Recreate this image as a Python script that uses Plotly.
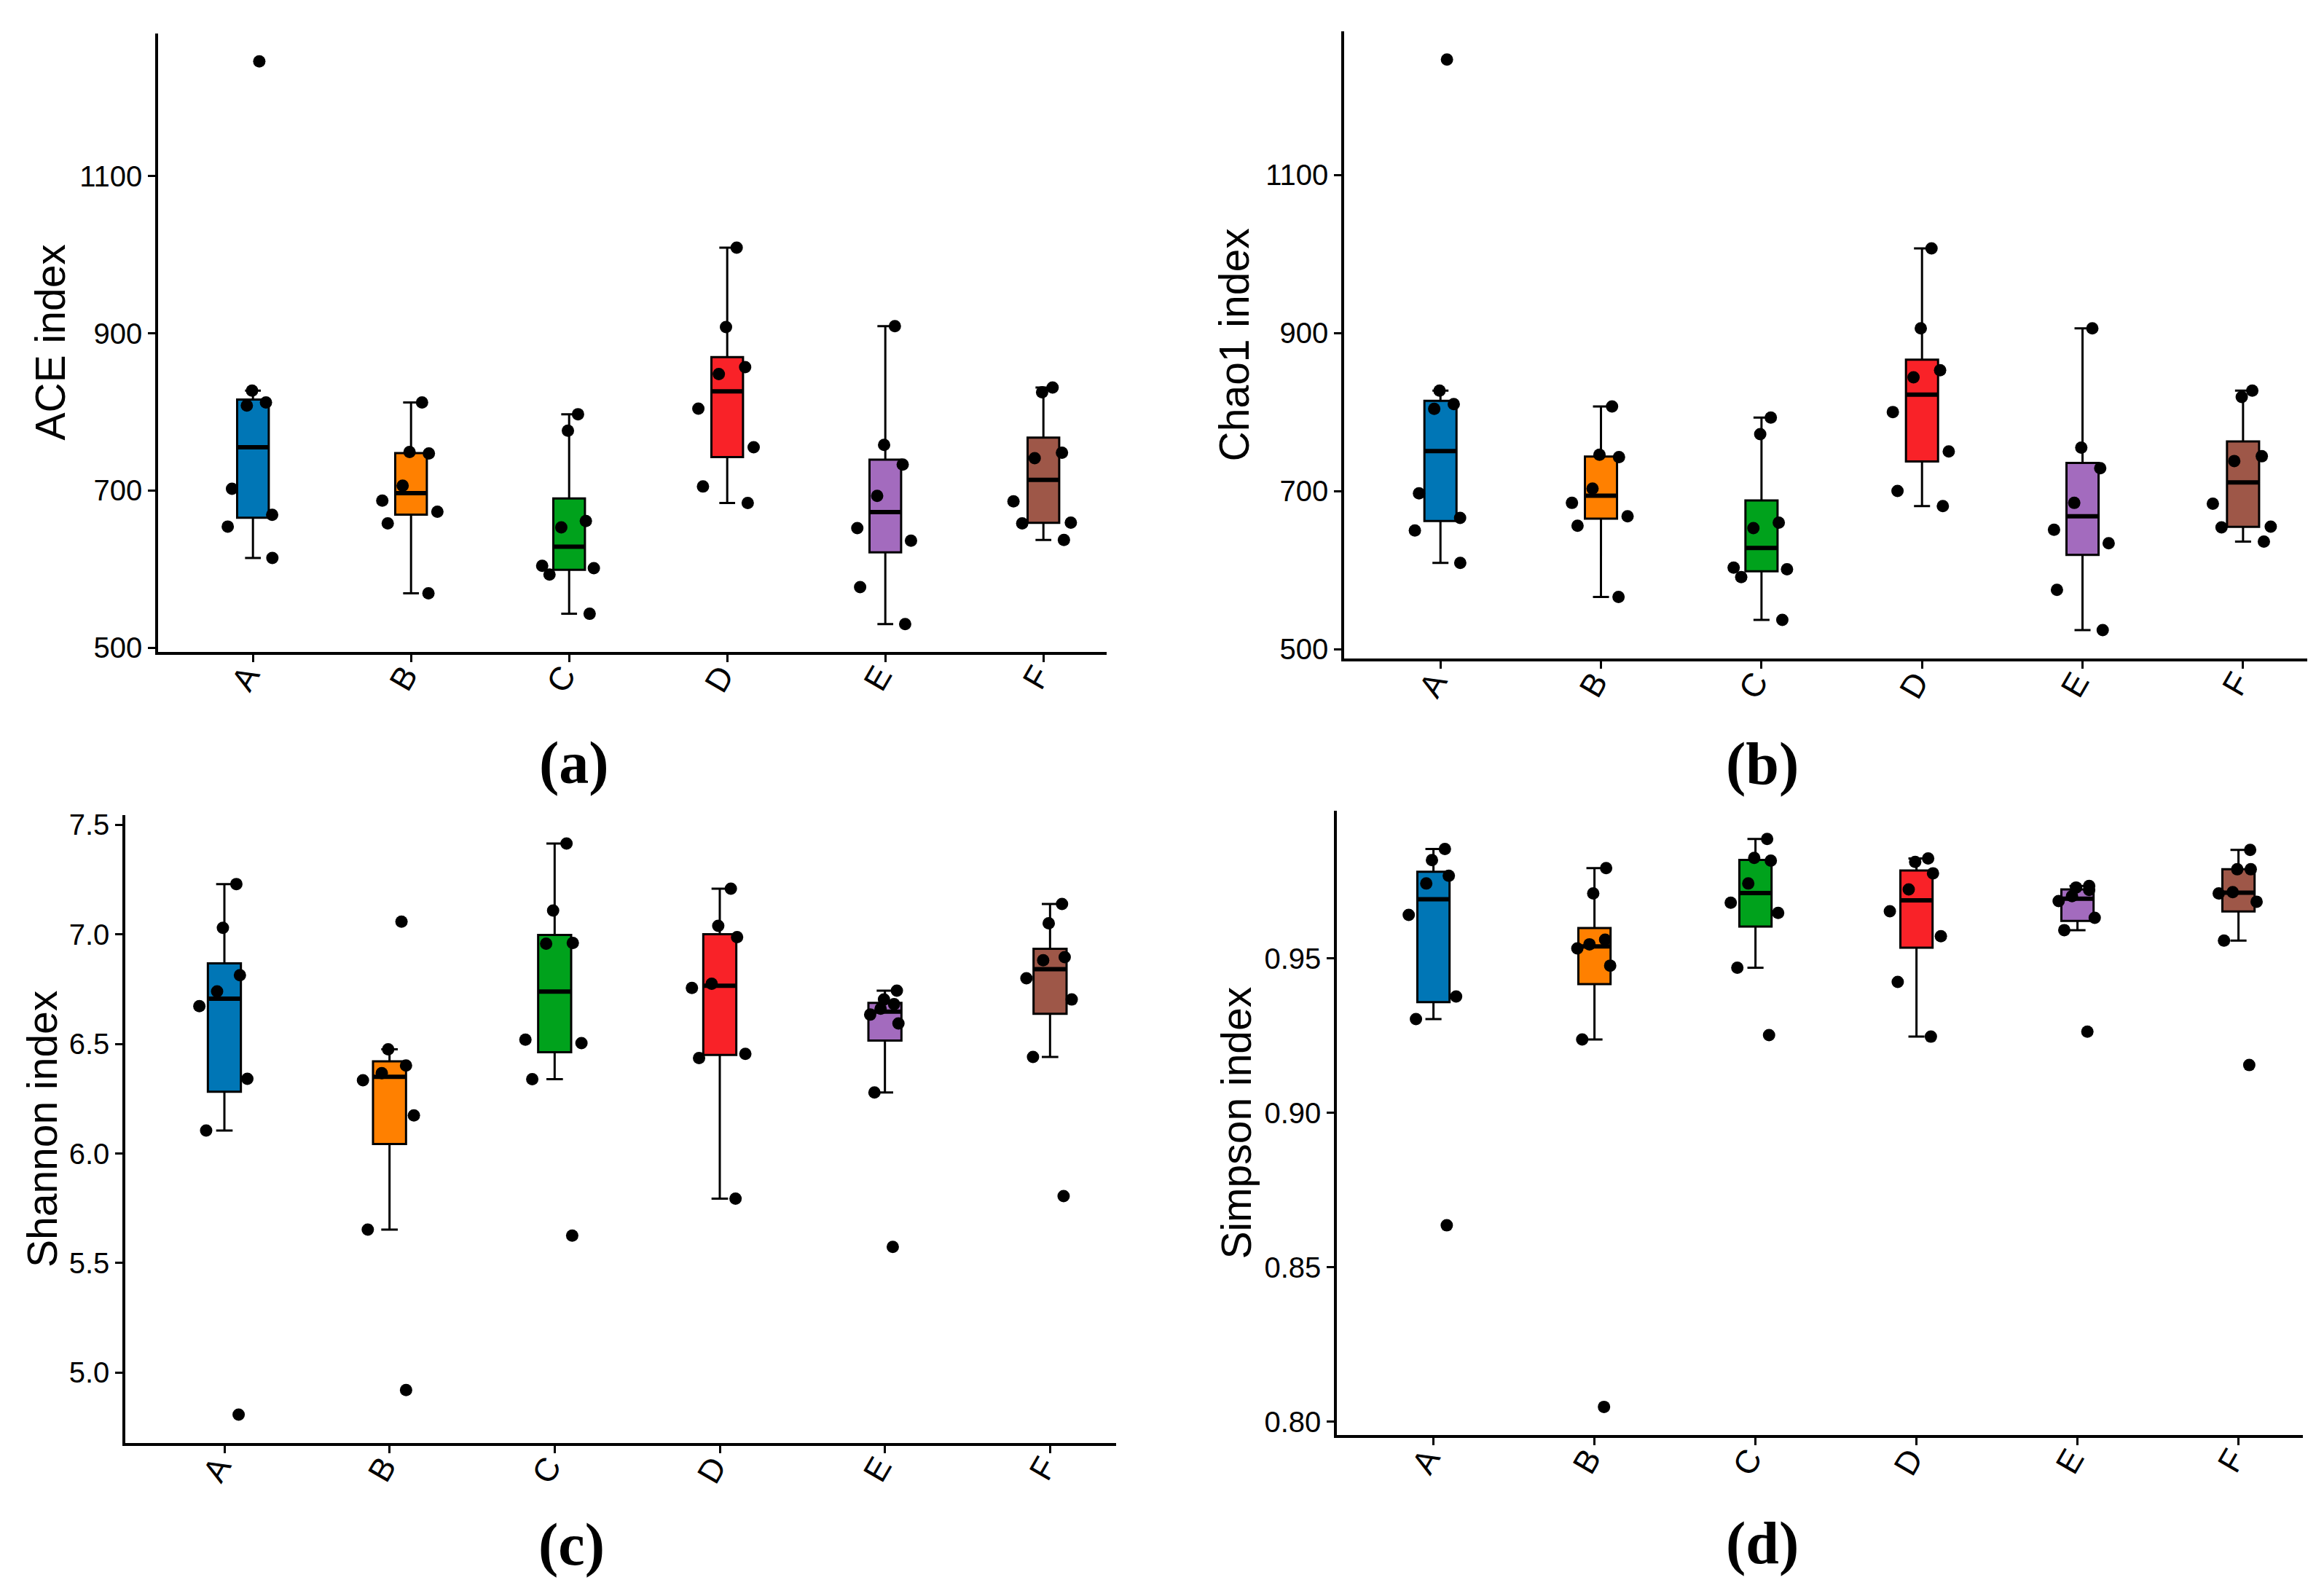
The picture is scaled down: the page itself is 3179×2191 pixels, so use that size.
# Alpha diversity boxplots (ACE, Chao1, Shannon, Simpson) in a 2x2 grid
import numpy as np
import plotly.graph_objects as go

W, H = 3179, 2191

groups = ["A", "B", "C", "D", "E", "F"]
colors = ["#0076B6", "#FF8000", "#00A21C", "#F92228", "#A36BBE", "#9E5748"]

# values, 8 samples per group
ace = [
    [1246, 827, 808, 812, 702, 669, 654, 614],
    [812, 749, 747, 706, 687, 673, 658, 569],
    [797, 776, 661, 653, 604, 601, 593, 543],
    [1009, 908, 857, 848, 804, 755, 705, 684],
    [909, 758, 733, 693, 652, 636, 577, 530],
    [825, 831, 748, 741, 686, 658, 659, 637],
]
chao1 = [
    [1246, 827, 804, 810, 697, 666, 650, 609],
    [807, 746, 743, 703, 685, 668, 656, 566],
    [793, 772, 660, 653, 603, 601, 591, 537],
    [1007, 906, 853, 844, 800, 750, 700, 681],
    [906, 755, 729, 685, 651, 634, 575, 524],
    [819, 827, 744, 738, 684, 654, 655, 636],
]
shannon = [
    [7.230, 7.030, 6.814, 6.740, 6.673, 6.341, 6.105, 4.808],
    [6.476, 6.367, 6.402, 6.334, 6.174, 5.653, 4.920, 7.058],
    [7.415, 7.109, 6.958, 6.961, 6.520, 6.504, 6.339, 5.625],
    [7.209, 7.039, 6.988, 6.775, 6.756, 6.455, 6.436, 5.794],
    [6.743, 6.703, 6.682, 6.661, 6.634, 6.594, 6.279, 5.574],
    [7.139, 7.051, 6.896, 6.882, 6.800, 6.703, 6.441, 5.806],
]
simpson = [
    [0.9855, 0.9819, 0.9768, 0.9743, 0.9641, 0.9377, 0.9304, 0.8636],
    [0.9793, 0.9711, 0.9561, 0.9546, 0.9533, 0.9477, 0.9238, 0.8048],
    [0.9887, 0.9826, 0.9817, 0.9743, 0.9681, 0.9648, 0.9470, 0.9252],
    [0.9824, 0.9813, 0.9776, 0.9724, 0.9653, 0.9572, 0.9424, 0.9247],
    [0.9735, 0.9730, 0.9722, 0.9702, 0.9686, 0.9632, 0.9592, 0.9263],
    [0.9852, 0.9789, 0.9789, 0.9715, 0.9711, 0.9684, 0.9558, 0.9155],
]

ace_ticks = [500, 700, 900, 1100]
shannon_ticks = [5.0, 5.5, 6.0, 6.5, 7.0, 7.5]
simpson_ticks = [0.80, 0.85, 0.90, 0.95]

# title, data, tag, ticks, tick format, pixel box (left, right, top, bottom),
# axis title centre x, tag centre (x, y)
panels = [
    ("ACE index", ace, "(a)", ace_ticks, "d", (209, 1511, 30, 889), 61, (780, 1043)),
    ("Chao1 index", chao1, "(b)", ace_ticks, "d", (1837, 3159, 27, 898), 1686, (2411, 1044)),
    ("Shannon index", shannon, "(c)", shannon_ticks, ".1f", (164, 1524, 1115, 1987), 50, (776, 2128)),
    ("Simpson index", simpson, "(d)", simpson_ticks, ".2f", (1827, 3153, 1109, 1976), 1689, (2411, 2126)),
]


def box_stats(v):
    # ggplot2 style: type-7 quartiles, whiskers to last point inside 1.5*IQR
    v = np.sort(np.asarray(v, dtype=float))
    q1, med, q3 = np.percentile(v, [25, 50, 75])
    iqr = q3 - q1
    lo = v[v >= q1 - 1.5 * iqr].min()
    hi = v[v <= q3 + 1.5 * iqr].max()
    return q1, med, q3, lo, hi


fig = go.Figure()
layout = dict(width=W, height=H, margin=dict(l=0, r=0, t=0, b=0),
              paper_bgcolor="white", plot_bgcolor="white", showlegend=False,
              boxmode="overlay", annotations=[])

for i, (title, data, tag, ticks, fmt, px, title_x, tag_xy) in enumerate(panels):
    n = "" if i == 0 else str(i + 1)
    xa, ya = "x" + n, "y" + n
    left, right, top, bottom = px

    for g, col, vals in zip(groups, colors, data):
        q1, med, q3, lo, hi = box_stats(vals)
        fig.add_trace(go.Box(
            x=[g], q1=[q1], median=[med], q3=[q3], lowerfence=[lo], upperfence=[hi],
            orientation="v", width=0.2, whiskerwidth=0.5, fillcolor=col,
            line=dict(color="black", width=3), boxpoints=False,
            hoverinfo="skip", xaxis=xa, yaxis=ya))
        # thicker median bar
        fig.add_trace(go.Box(
            x=[g], q1=[med], median=[med], q3=[med], lowerfence=[med], upperfence=[med],
            orientation="v", width=0.2, whiskerwidth=0, fillcolor="black",
            line=dict(color="black", width=6), boxpoints=False,
            hoverinfo="skip", xaxis=xa, yaxis=ya))
    for g, vals in zip(groups, data):
        # jittered sample points, drawn by an invisible box
        fig.add_trace(go.Box(
            x=[g] * len(vals), y=vals, orientation="v", width=0.5,
            boxpoints="all", jitter=1, pointpos=0, whiskerwidth=0,
            fillcolor="rgba(0,0,0,0)", line=dict(color="rgba(0,0,0,0)", width=0),
            marker=dict(color="black", size=17), hoverinfo="skip",
            xaxis=xa, yaxis=ya))

    flat = np.concatenate([np.asarray(v, dtype=float) for v in data])
    span = flat.max() - flat.min()
    yr = [flat.min() - 0.05 * span, flat.max() + 0.05 * span]

    axis_common = dict(showline=True, linecolor="black", linewidth=3.5,
                       ticks="outside", ticklen=10, tickwidth=3, tickcolor="black",
                       showgrid=False, zeroline=False)
    layout["xaxis" + n] = dict(axis_common, domain=[left / W, right / W], anchor=ya,
                               type="category", categoryorder="array",
                               categoryarray=groups, range=[-0.6, 5.4], tickangle=-60,
                               ticklabelstandoff=-26, ticklabelshift=-9,
                               tickfont=dict(family="Liberation Sans, Arial", size=45,
                                             color="black"))
    layout["yaxis" + n] = dict(axis_common, domain=[1 - bottom / H, 1 - top / H], anchor=xa,
                               range=yr, tickmode="array", tickvals=ticks,
                               ticktext=[format(t, fmt) for t in ticks],
                               tickfont=dict(family="Liberation Sans, Arial", size=40,
                                             color="black"))

    layout["annotations"].append(dict(
        text=title, xref="paper", yref="paper", x=title_x / W,
        y=1 - (top + bottom) / 2 / H, textangle=-90, showarrow=False,
        xanchor="center", yanchor="middle",
        font=dict(family="Liberation Sans, Arial", size=57, color="black")))
    layout["annotations"].append(dict(
        text="<b>" + tag + "</b>", xref="paper", yref="paper",
        x=tag_xy[0] / W, y=1 - tag_xy[1] / H, showarrow=False,
        xanchor="center", yanchor="middle",
        font=dict(family="Liberation Serif, DejaVu Serif", size=82, color="black")))

fig.update_layout(**layout)
fig.write_html("out.html")
